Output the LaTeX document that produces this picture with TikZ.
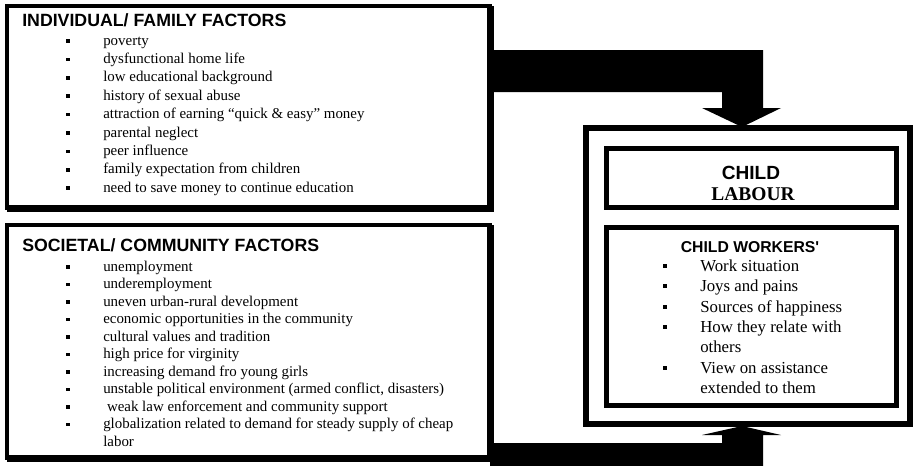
\documentclass[tikz,border=0pt]{standalone}
\usepackage{fontspec}
\setmainfont{Liberation Serif}
\setsansfont{Liberation Sans}
\begin{document}
\begin{tikzpicture}[x=0.75pt,y=-0.75pt,
  thinframe/.style={line width=4*0.75pt},
  thickframe/.style={line width=7*0.75pt},
  outframe/.style={line width=6*0.75pt},
  inframe/.style={line width=5*0.75pt},
  blockarrow/.style={fill=black},
  ltitle/.style={anchor=base west,inner sep=0pt,font=\fontsize{13.3}{15}\selectfont\sffamily\bfseries},
  litem/.style={anchor=base west,inner sep=0pt,font=\fontsize{11.2}{13}\selectfont},
  ritem/.style={anchor=base west,inner sep=0pt,font=\fontsize{12.6}{15}\selectfont},
  bul/.style={fill=black,minimum size=3.5*0.75pt,inner sep=0pt,rectangle},
]
\useasboundingbox (0,0) rectangle (915,465);
\begin{scope}
\clip (0,0) rectangle (915,465);
% left boxes
\draw[thinframe] (7,6) rectangle (490,208);
\draw[thickframe] (490,6) -- (490,208) -- (7,208);
\draw[thinframe] (7,225) rectangle (490,458);
\draw[thickframe] (490,225) -- (490,458) -- (7,458);
% right boxes
\draw[outframe] (586,128) rectangle (910,424);
\draw[inframe] (606,148) rectangle (896,207);
\draw[inframe] (606,227) rectangle (896,405);
% block arrows
\fill[blockarrow] (490,50) -- (763,50) -- (763,108) -- (781,108) -- (742,127) -- (702,108) -- (722,108) -- (722,92) -- (490,92) -- cycle;
\fill[blockarrow] (490,443) -- (722,443) -- (722,435) -- (702,435) -- (742,426) -- (781,435) -- (763,435) -- (763,470) -- (490,470) -- cycle;
\end{scope}
% top-left texts
\node[ltitle] (t1) at (22,26) {INDIVIDUAL/ FAMILY FACTORS};
\foreach \txt [count=\i from 0] in {poverty,dysfunctional home life,low educational background,history of sexual abuse,attraction of earning “quick \& easy” money,parental neglect,peer influence,family expectation from children,need to save money to continue education}{
  \node[bul] (ab\i) at (68,{41+\i*18.4}) {};
  \node[litem] (a\i) at (103,{45+\i*18.4}) {\txt};
}
% bottom-left texts
\node[ltitle] (t2) at (22,251) {SOCIETAL/ COMMUNITY FACTORS};
\foreach \txt [count=\i from 0] in {unemployment,underemployment,uneven urban-rural development,economic opportunities in the community,cultural values and tradition,high price for virginity,increasing demand fro young girls,{unstable political environment (armed conflict, disasters)},\ weak law enforcement and community support,globalization related to demand for steady supply of cheap}{
  \node[bul] (bb\i) at (68,{267+\i*17.5}) {};
  \node[litem] (b\i) at (103,{271+\i*17.5}) {\txt};
}
\node[litem] (b10) at (103,{271+10*17.5}) {labor};
% right texts
\node[anchor=base,inner sep=0pt,font=\fontsize{14.3}{16}\selectfont\sffamily\bfseries] (c1) at (751,179) {CHILD};
\node[anchor=base,inner sep=0pt,font=\fontsize{14.6}{16}\selectfont\bfseries] (c2) at (753,200) {LABOUR};
\node[anchor=base,inner sep=0pt,font=\fontsize{11.8}{14}\selectfont\sffamily\bfseries] (c3) at (750,252) {CHILD WORKERS\textquotesingle};
\foreach \y/\txt [count=\i from 0] in {271/Work situation,291/Joys and pains,312/Sources of happiness,332/How they relate with,373/View on assistance}{
  \node[bul] (rb\i) at (665,\y-5) {};
  \node[ritem] (r\i) at (700,\y) {\txt};
}
\node[ritem] (r5) at (700,352) {others};
\node[ritem] (r6) at (700,393) {extended to them};
\end{tikzpicture}
\end{document}
